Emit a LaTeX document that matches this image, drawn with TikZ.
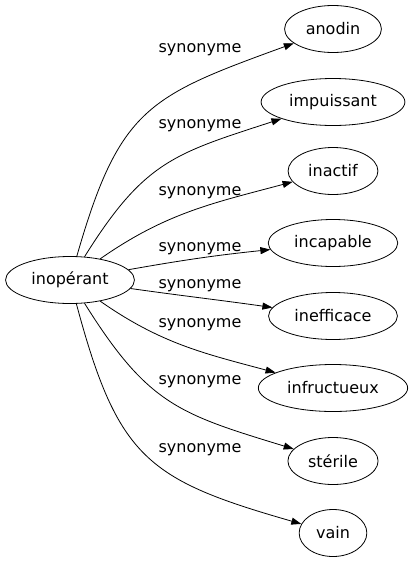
\documentclass[tikz,border=0pt]{standalone}
\usepackage{fontspec}
\setmainfont{DejaVu Sans}
\usetikzlibrary{arrows.meta,shapes.geometric}

\begin{document}
\begin{tikzpicture}[
  x=1pt, y=1pt,
  font=\fontsize{16}{19}\selectfont,
  word/.style={draw, ellipse, line width=0.8pt, inner xsep=7pt, minimum height=47pt},
  syn/.style={-{Triangle[length=10pt, width=7pt]}, line width=0.8pt},
  lab/.style={inner sep=1pt}
]
\useasboundingbox (0,0) rectangle (412,-563);

% ---------------- source ----------------
\node[word] (inop) at (70,-280) {inopérant};

% ---------------- synonyms ----------------
\node[word] (anodin) at (333,-29) {anodin};
\node[word] (impuis) at (333,-102) {impuissant};
\node[word] (inactif) at (333,-171) {inactif};
\node[word] (incap) at (333,-243) {incapable};
\node[word] (ineff) at (333,-316) {inefficace};
\node[word] (infruct) at (333,-388) {infructueux};
\node[word] (steril) at (333,-461) {stérile};
\node[word] (vain) at (333,-533) {vain};

% ---------------- edges ----------------
\draw[syn] (inop) to[out=74, in=200, looseness=1.3] (anodin);
\draw[syn] (inop) to[out=58, in=198, looseness=1.2] (impuis);
\draw[syn] (inop) to[out=35, in=195] (inactif);
\draw[syn] (inop) to[out=10, in=186] (incap);
\draw[syn] (inop) to[out=-8, in=172] (ineff);
\draw[syn] (inop) to[out=-35, in=165] (infruct);
\draw[syn] (inop) to[out=-58, in=163, looseness=1.2] (steril);
\draw[syn] (inop) to[out=-75, in=164, looseness=1.3] (vain);

% ---------------- labels ----------------
\node[lab] (l1) at (200,-50) {synonyme};
\node[lab] (l2) at (200,-126) {synonyme};
\node[lab] (l3) at (200,-193) {synonyme};
\node[lab] (l4) at (200,-249) {synonyme};
\node[lab] (l5) at (200,-286) {synonyme};
\node[lab] (l6) at (200,-325) {synonyme};
\node[lab] (l7) at (200,-382) {synonyme};
\node[lab] (l8) at (200,-450) {synonyme};

\end{tikzpicture}
\end{document}
